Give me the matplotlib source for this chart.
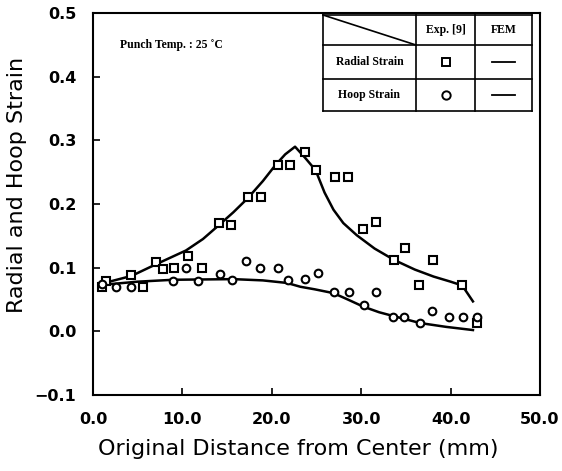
import numpy as np
import matplotlib
matplotlib.use("Agg")
import matplotlib.pyplot as plt

radial_x = [1.0, 1.5, 4.3, 5.6, 7.0, 7.8, 9.1, 10.6, 12.2, 14.1, 15.4, 17.3, 18.8,
            20.7, 22.0, 23.7, 24.9, 27.1, 28.5, 30.2, 31.7, 33.7, 34.9, 36.5, 38.0,
            41.3, 43.0]
radial_y = [0.069, 0.079, 0.088, 0.070, 0.109, 0.098, 0.099, 0.119, 0.099, 0.170,
            0.167, 0.211, 0.211, 0.262, 0.262, 0.281, 0.254, 0.242, 0.242, 0.161,
            0.171, 0.112, 0.131, 0.073, 0.112, 0.073, 0.013]

hoop_x = [1.0, 2.6, 4.3, 8.9, 10.4, 11.7, 14.2, 15.5, 17.1, 18.7, 20.7, 21.8, 23.7,
          25.2, 27.0, 28.6, 30.3, 31.6, 33.6, 34.8, 36.6, 37.9, 39.8, 41.4, 43.0]
hoop_y = [0.074, 0.069, 0.070, 0.079, 0.099, 0.079, 0.090, 0.081, 0.111, 0.100,
          0.100, 0.081, 0.082, 0.091, 0.061, 0.061, 0.042, 0.062, 0.022, 0.022,
          0.013, 0.032, 0.023, 0.023, 0.023]

# FEM curves
fem_radial_x = [1.0, 4.3, 7.0, 10.4, 12.3, 14.1, 15.7, 17.3, 19.0, 20.4, 21.5,
                22.6, 23.7, 24.9, 25.9, 26.9, 28.0, 29.5, 31.5, 33.7, 36.0,
                38.1, 40.0, 41.3, 42.5]
fem_radial_y = [0.075, 0.087, 0.105, 0.127, 0.145, 0.167, 0.187, 0.209, 0.236,
                0.261, 0.278, 0.290, 0.273, 0.253, 0.218, 0.191, 0.170, 0.151,
                0.130, 0.112, 0.097, 0.086, 0.078, 0.072, 0.047]

fem_hoop_x = [1.0, 5.0, 9.0, 15.7, 19.0, 21.7, 23.2, 24.8, 26.9, 28.5, 30.2,
              32.0, 33.6, 36.6, 39.5, 42.5]
fem_hoop_y = [0.073, 0.078, 0.081, 0.082, 0.080, 0.076, 0.070, 0.066, 0.060,
              0.050, 0.039, 0.030, 0.024, 0.013, 0.007, 0.002]

fig = plt.figure(figsize=(5.62, 4.71), dpi=100)
ax = fig.add_axes([93 / 562, 76 / 471, 447 / 562, 382 / 471])

ax.plot(fem_radial_x, fem_radial_y, color="black", lw=1.8)
ax.plot(fem_hoop_x, fem_hoop_y, color="black", lw=1.8)
ax.plot(radial_x, radial_y, ls="none", marker="s", ms=5.5, mfc="white",
        mec="black", mew=1.5)
ax.plot(hoop_x, hoop_y, ls="none", marker="o", ms=5.5, mfc="white",
        mec="black", mew=1.5)

ax.set_xlim(0, 50)
ax.set_ylim(-0.1, 0.5)
ax.set_xticks(np.arange(0, 51, 10))
ax.set_yticks(np.arange(-0.1, 0.51, 0.1))
ax.set_xticklabels([f"{v:.1f}" for v in np.arange(0, 51, 10)])
ax.set_yticklabels([f"{v:.1f}".replace("-", "\u2212") for v in np.arange(-0.1, 0.51, 0.1)])
ax.tick_params(direction="in", length=5, width=1.2, labelsize=11.5, pad=12)
for lab in ax.get_xticklabels() + ax.get_yticklabels():
    lab.set_fontweight("bold")
for s in ax.spines.values():
    s.set_linewidth(1.5)

ax.set_xlabel("Original Distance from Center (mm)", fontsize=16)
ax.xaxis.set_label_coords(0.46, -0.115)
ax.set_ylabel("Radial and Hoop Strain", fontsize=16)
ax.yaxis.set_label_coords(-0.148, 0.55)

ax.text(0.06, 0.916, "Punch Temp. : 25 \u02daC", transform=ax.transAxes,
        fontsize=8.5, fontweight="bold", family="Liberation Serif", va="center")

# legend table drawn in axes fractions
tx = [0.5145, 0.7226, 0.8546, 0.9821]
ty = [0.9948, 0.9162, 0.8272, 0.7435]
tk = dict(transform=ax.transAxes, color="black", lw=1.2, clip_on=False)
for y in ty:
    ax.plot([tx[0], tx[-1]], [y, y], **tk)
for x in tx:
    ax.plot([x, x], [ty[0], ty[-1]], **tk)
ax.plot([tx[0], tx[1]], [ty[0], ty[1]], **tk)

tt = dict(transform=ax.transAxes, fontsize=8.5, fontweight="bold",
          family="Liberation Serif", ha="center", va="center")
ax.text((tx[1] + tx[2]) / 2, (ty[0] + ty[1]) / 2, "Exp. [9]", **tt)
ax.text((tx[2] + tx[3]) / 2, (ty[0] + ty[1]) / 2, "FEM", **tt)
ax.text((tx[0] + tx[1]) / 2, (ty[1] + ty[2]) / 2, "Radial Strain", **tt)
ax.text((tx[0] + tx[1]) / 2, (ty[2] + ty[3]) / 2, "Hoop Strain", **tt)
for i, m in enumerate(["s", "o"]):
    yc = (ty[i + 1] + ty[i + 2]) / 2
    ax.plot([(tx[1] + tx[2]) / 2], [yc], marker=m, ms=6, mfc="white", mec="black",
            mew=1.4, transform=ax.transAxes, clip_on=False)
    xm = (tx[2] + tx[3]) / 2
    ax.plot([xm - 0.025, xm + 0.025], [yc, yc], transform=ax.transAxes,
            color="black", lw=1.3)

fig.savefig("out.png", dpi=100)
